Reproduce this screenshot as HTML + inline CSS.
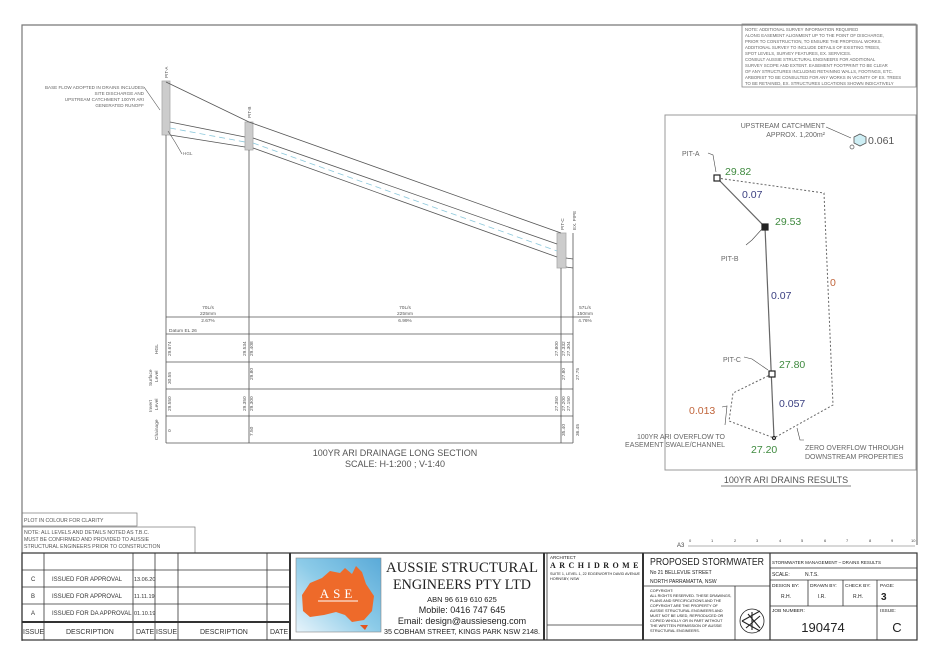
<!DOCTYPE html>
<html><head><meta charset="utf-8"><style>
html,body{margin:0;padding:0;background:#fff;width:940px;height:664px;overflow:hidden}
svg{display:block}
text{font-family:"Liberation Sans",sans-serif}
text.serif{font-family:"Liberation Serif",serif}
</style></head><body>
<svg width="940" height="664" viewBox="0 0 940 664" xmlns="http://www.w3.org/2000/svg">
<rect width="940" height="664" fill="#fff"/>
<polyline points="22,641 22,25 917,25 917,545" fill="none" stroke="#777" stroke-width="1.2"/>

<rect x="742" y="24" width="174" height="63" fill="none" stroke="#888" stroke-width="0.8"/>
<g font-size="4.3" fill="#666">
<text x="745" y="31">NOTE: ADDITIONAL SURVEY INFORMATION REQUIRED</text>
<text x="745" y="37">ALONG EASEMENT ALIGNMENT UP TO THE POINT OF DISCHARGE,</text>
<text x="745" y="43">PRIOR TO CONSTRUCTION, TO ENSURE THE PROPOSAL WORKS.</text>
<text x="745" y="49">ADDITIONAL SURVEY TO INCLUDE DETAILS OF EXISTING TREES,</text>
<text x="745" y="55">SPOT LEVELS, SURVEY FEATURES, EX. SERVICES.</text>
<text x="745" y="61">CONSULT AUSSIE STRUCTURAL ENGINEERS FOR ADDITIONAL</text>
<text x="745" y="67">SURVEY SCOPE AND EXTENT. EASEMENT FOOTPRINT TO BE CLEAR</text>
<text x="745" y="73">OF ANY STRUCTURES INCLUDING RETAINING WALLS, FOOTINGS, ETC.</text>
<text x="745" y="79">ARBORIST TO BE CONSULTED FOR ANY WORKS IN VICINITY OF EX. TREES</text>
<text x="745" y="85">TO BE RETAINED, EX. STRUCTURES LOCATIONS SHOWN INDICATIVELY</text>
</g>

<g stroke="#555" stroke-width="0.8" fill="none">
<rect x="162" y="81" width="8" height="54" fill="#ccc" stroke="#aaa"/>
<rect x="245" y="122" width="8" height="28" fill="#ccc" stroke="#aaa"/>
<rect x="557" y="233" width="9" height="35" fill="#ccc" stroke="#aaa"/>
<polyline points="166,82 249,122 561,233"/>
<line x1="170" y1="122" x2="245" y2="137"/>
<line x1="170" y1="135" x2="245" y2="147"/>
<line x1="253" y1="138" x2="557" y2="244"/>
<line x1="253" y1="148" x2="557" y2="257"/>
<line x1="566" y1="258" x2="573" y2="259"/>
<line x1="566" y1="267" x2="573" y2="268"/>
<line x1="573" y1="233" x2="573" y2="443"/>
<line x1="166" y1="135" x2="166" y2="443"/>
<line x1="249" y1="150" x2="249" y2="443"/>
<line x1="561" y1="268" x2="561" y2="443"/>
</g>
<g stroke="#8cc8dc" stroke-width="0.8" stroke-dasharray="6,4" fill="none">
<line x1="170" y1="128" x2="245" y2="142"/>
<line x1="253" y1="143" x2="557" y2="251"/>
</g>
<g stroke="#555" stroke-width="0.6" fill="none">
<polyline points="144,87 160,110"/>
<polyline points="182,154 175,142 168,131"/>
</g>
<g font-size="4.6" fill="#666" text-anchor="end">
<text x="144" y="89">BASE FLOW ADOPTED IN DRAINS INCLUDES</text>
<text x="144" y="95">SITE DISCHARGE AND</text>
<text x="144" y="101">UPSTREAM CATCHMENT 100YR ARI</text>
<text x="144" y="107">GENERATED RUNOFF</text>
</g>
<text x="183" y="155" font-size="4.6" fill="#666">HGL</text>
<g font-size="4.6" fill="#555">
<text transform="translate(168,78) rotate(-90)">PIT-A</text>
<text transform="translate(251,118) rotate(-90)">PIT-B</text>
<text transform="translate(564,230) rotate(-90)">PIT-C</text>
<text transform="translate(576,230) rotate(-90)">EX. PIPE</text>
</g>

<g stroke="#555" stroke-width="0.8" fill="none">
<line x1="166" y1="317" x2="590" y2="317"/>
<line x1="166" y1="334" x2="573" y2="334"/>
<line x1="166" y1="362" x2="573" y2="362"/>
<line x1="166" y1="389" x2="573" y2="389"/>
<line x1="166" y1="416" x2="573" y2="416"/>
<line x1="166" y1="443" x2="573" y2="443"/>
</g>
<g font-size="4.8" fill="#555" text-anchor="middle">
<text x="208" y="309">70L/s</text><text x="208" y="315">225mm</text><text x="208" y="322">2.67%</text>
<text x="405" y="309">70L/s</text><text x="405" y="315">225mm</text><text x="405" y="322">6.99%</text>
<text x="585" y="309">57L/s</text><text x="585" y="315">150mm</text><text x="585" y="322">4.76%</text>
</g>
<text x="169" y="332" font-size="4.8" fill="#555">Datum EL 26</text>
<g font-size="4.8" fill="#555">
<text transform="translate(158,354) rotate(-90)">HGL</text>
<text transform="translate(152,386) rotate(-90)">Surface</text>
<text transform="translate(158,382) rotate(-90)">Level</text>
<text transform="translate(152,412) rotate(-90)">Invert</text>
<text transform="translate(158,410) rotate(-90)">Level</text>
<text transform="translate(158,440) rotate(-90)">Chainage</text>
<text transform="translate(171,356) rotate(-90)">29.674</text>
<text transform="translate(246,356) rotate(-90)">29.534</text>
<text transform="translate(253,356) rotate(-90)">29.408</text>
<text transform="translate(558,356) rotate(-90)">27.800</text>
<text transform="translate(565,356) rotate(-90)">27.332</text>
<text transform="translate(570,356) rotate(-90)">27.304</text>
<text transform="translate(171,384) rotate(-90)">30.55</text>
<text transform="translate(253,380) rotate(-90)">29.80</text>
<text transform="translate(565,380) rotate(-90)">27.80</text>
<text transform="translate(579,380) rotate(-90)">27.75</text>
<text transform="translate(171,411) rotate(-90)">29.550</text>
<text transform="translate(246,411) rotate(-90)">29.350</text>
<text transform="translate(253,411) rotate(-90)">29.300</text>
<text transform="translate(558,411) rotate(-90)">27.350</text>
<text transform="translate(565,411) rotate(-90)">27.200</text>
<text transform="translate(570,411) rotate(-90)">27.150</text>
<text transform="translate(171,432) rotate(-90)">0</text>
<text transform="translate(253,436) rotate(-90)">7.50</text>
<text transform="translate(565,436) rotate(-90)">35.40</text>
<text transform="translate(579,436) rotate(-90)">36.45</text>
</g>
<g font-size="9" fill="#555" text-anchor="middle">
<text x="395" y="456">100YR ARI DRAINAGE LONG SECTION</text>
<text x="395" y="467">SCALE: H-1:200 ; V-1:40</text>
</g>

<rect x="665" y="115" width="251" height="355" fill="none" stroke="#999" stroke-width="1"/>
<g stroke="#666" stroke-width="1" stroke-dasharray="2,2" fill="none">
<polyline points="717,178 824,193 833,405 774,438"/>
<polyline points="772,374 733,393 729,421 774,438"/>
</g>
<g stroke="#666" stroke-width="1.2" fill="none">
<line x1="717" y1="178" x2="765" y2="227"/>
<line x1="765" y1="227" x2="774" y2="438"/>
</g>
<g fill="#fff" stroke="#222" stroke-width="1.2">
<rect x="714" y="175" width="6" height="6"/>
<rect x="762" y="224" width="6" height="6" fill="#222"/>
<rect x="769" y="371" width="6" height="6"/>
<circle cx="774" cy="438" r="1.5"/>
</g>
<polygon points="860,134 866,137 866,143 860,146 854,143 854,137" fill="#cdeef4" stroke="#555" stroke-width="0.8"/>
<circle cx="852" cy="147" r="2" fill="#fff" stroke="#555" stroke-width="0.7"/>
<g stroke="#444" stroke-width="0.6" fill="none">
<polyline points="826,127 851,138"/>
<polyline points="708,153 713,155 716,172"/>
<polyline points="746,245 752,240 762,229"/>
<polyline points="744,357 752,359 768,370"/>
<polyline points="722,407 727,406 725,425"/>
<polyline points="797,428 800,440 804,440"/>
</g>
<g font-size="7" fill="#666">
<text x="825" y="128" text-anchor="end">UPSTREAM CATCHMENT</text>
<text x="825" y="137" text-anchor="end">APPROX. 1,200m²</text>
<text x="682" y="156">PIT-A</text>
<text x="721" y="261">PIT-B</text>
<text x="723" y="362">PIT-C</text>
<text x="725" y="439" text-anchor="end">100YR ARI OVERFLOW TO</text>
<text x="725" y="447" text-anchor="end">EASEMENT SWALE/CHANNEL</text>
<text x="805" y="450">ZERO OVERFLOW THROUGH</text>
<text x="805" y="459">DOWNSTREAM PROPERTIES</text>
</g>
<g font-size="10.5">
<text x="868" y="144" fill="#555">0.061</text>
<text x="725" y="175" fill="#3f8a3f">29.82</text>
<text x="742" y="198" fill="#3a3f80">0.07</text>
<text x="775" y="225" fill="#3f8a3f">29.53</text>
<text x="771" y="299" fill="#3a3f80">0.07</text>
<text x="830" y="286" fill="#c0643a">0</text>
<text x="779" y="368" fill="#3f8a3f">27.80</text>
<text x="779" y="407" fill="#3a3f80">0.057</text>
<text x="689" y="414" fill="#c0643a">0.013</text>
<text x="751" y="453" fill="#3f8a3f">27.20</text>
</g>
<text x="786" y="483" font-size="9" fill="#555" text-anchor="middle">100YR ARI DRAINS RESULTS</text>
<line x1="721" y1="486" x2="851" y2="486" stroke="#555" stroke-width="0.8"/>

<text x="677" y="547" font-size="6" fill="#444">A3</text>
<line x1="688" y1="546" x2="915" y2="546" stroke="#666" stroke-width="0.6"/>
<g font-size="4" fill="#444">
<text x="689" y="542">0</text><text x="711" y="542">1</text><text x="734" y="542">2</text><text x="756" y="542">3</text><text x="779" y="542">4</text><text x="801" y="542">5</text><text x="824" y="542">6</text><text x="846" y="542">7</text><text x="869" y="542">8</text><text x="891" y="542">9</text><text x="911" y="542">10</text>
</g>

<rect x="22" y="513" width="115" height="13" fill="none" stroke="#777" stroke-width="0.7"/>
<text x="24" y="522" font-size="5.2" fill="#555">PLOT IN COLOUR FOR CLARITY</text>
<rect x="22" y="527" width="173" height="26" fill="none" stroke="#777" stroke-width="0.7"/>
<g font-size="5.2" fill="#555">
<text x="24" y="534">NOTE: ALL LEVELS AND DETAILS NOTED AS T.B.C.</text>
<text x="24" y="541">MUST BE CONFIRMED AND PROVIDED TO AUSSIE</text>
<text x="24" y="548">STRUCTURAL ENGINEERS PRIOR TO CONSTRUCTION</text>
</g>

<g stroke="#333" fill="none">
<rect x="22" y="553" width="895" height="87" stroke-width="1.2"/>
<line x1="290" y1="553" x2="290" y2="640" stroke-width="2"/>
<line x1="544" y1="553" x2="544" y2="640" stroke-width="2"/>
<line x1="643" y1="553" x2="643" y2="640" stroke-width="2"/>
<line x1="770" y1="553" x2="770" y2="640" stroke-width="1.2"/>
<g stroke-width="0.8">
<line x1="22" y1="570" x2="290" y2="570"/>
<line x1="22" y1="587" x2="290" y2="587"/>
<line x1="22" y1="604" x2="290" y2="604"/>
<line x1="22" y1="622" x2="290" y2="622" stroke-width="2"/>
<line x1="44" y1="553" x2="44" y2="640"/>
<line x1="133" y1="553" x2="133" y2="640"/>
<line x1="155" y1="553" x2="155" y2="640"/>
<line x1="178" y1="553" x2="178" y2="640"/>
<line x1="267" y1="553" x2="267" y2="640"/>
<line x1="547" y1="553" x2="547" y2="640"/>
<line x1="547" y1="625" x2="643" y2="625"/>
<line x1="643" y1="586" x2="770" y2="586"/>
<line x1="735" y1="586" x2="735" y2="640"/>
<line x1="770" y1="568" x2="917" y2="568"/>
<line x1="770" y1="580" x2="917" y2="580"/>
<line x1="770" y1="606" x2="917" y2="606"/>
<line x1="808" y1="580" x2="808" y2="606"/>
<line x1="843" y1="580" x2="843" y2="606"/>
<line x1="877" y1="580" x2="877" y2="640"/>
</g>
</g>
<g font-size="6" fill="#333">
<text x="31" y="581">C</text><text x="52" y="581">ISSUED FOR APPROVAL</text><text x="134" y="581" font-size="5.5">13.06.20</text>
<text x="31" y="598">B</text><text x="52" y="598">ISSUED FOR APPROVAL</text><text x="134" y="598" font-size="5.5">11.11.19</text>
<text x="31" y="615">A</text><text x="52" y="615">ISSUED FOR DA APPROVAL</text><text x="134" y="615" font-size="5.5">01.10.19</text>
<text x="23" y="634" font-size="7">ISSUE</text><text x="66" y="634" font-size="7">DESCRIPTION</text><text x="136" y="634" font-size="7">DATE</text><text x="156" y="634" font-size="7">ISSUE</text><text x="200" y="634" font-size="7">DESCRIPTION</text><text x="270" y="634" font-size="7">DATE</text>
</g>
<defs><linearGradient id="lg" x1="0" y1="1" x2="1" y2="0"><stop offset="0" stop-color="#e8f4fb"/><stop offset="0.5" stop-color="#8ccbe8"/><stop offset="1" stop-color="#5aaad8"/></linearGradient></defs>
<rect x="296" y="558" width="85" height="74" fill="url(#lg)" stroke="#888" stroke-width="0.6"/>
<path d="M302,595 L310,583 L322,578 L330,571 L340,573 L345,568 L352,574 L356,566 L362,572 L366,584 L374,596 L372,611 L364,620 L352,622 L345,615 L336,612 L324,615 L310,617 L303,611 Z" fill="#ee6a2a"/>
<path d="M360,625 L368,625 L365,630 Z" fill="#e25520"/>
<text x="338" y="598" font-size="13" fill="#fff" text-anchor="middle" class="serif" style="font-family:'Liberation Serif',serif" letter-spacing="4">ASE</text>
<line x1="318" y1="601" x2="358" y2="601" stroke="#fff" stroke-width="1"/>
<g fill="#222" text-anchor="middle">
<text x="462" y="572" font-size="14.5" class="serif" style="font-family:'Liberation Serif',serif" textLength="152" lengthAdjust="spacingAndGlyphs">AUSSIE STRUCTURAL</text>
<text x="462" y="589" font-size="14.5" class="serif" style="font-family:'Liberation Serif',serif" textLength="138" lengthAdjust="spacingAndGlyphs">ENGINEERS PTY LTD</text>
<text x="462" y="602" font-size="7.5">ABN 96 619 610 625</text>
<text x="462" y="613" font-size="9">Mobile:  0416 747 645</text>
<text x="462" y="624" font-size="9">Email:  design@aussieseng.com</text>
<text x="462" y="634" font-size="7" textLength="156" lengthAdjust="spacingAndGlyphs">35 COBHAM STREET, KINGS PARK NSW 2148.</text>
</g>
<g fill="#222">
<text x="550" y="559" font-size="4.5">ARCHITECT</text>
<text x="550" y="568" font-size="8" font-weight="bold" style="font-family:'Liberation Serif',serif" letter-spacing="1.5" textLength="90">ARCHIDROME</text>
<text x="550" y="575" font-size="3.8" textLength="90" lengthAdjust="spacingAndGlyphs">SUITE 1, LEVEL 1, 22 EDGEWORTH DAVID AVENUE</text>
<text x="550" y="580" font-size="3.8">HORNSBY, NSW</text>
<text x="650" y="565" font-size="10" textLength="114" lengthAdjust="spacingAndGlyphs">PROPOSED STORMWATER</text>
<text x="650" y="574" font-size="5">No 21 BELLEVUE STREET</text>
<text x="650" y="583" font-size="5">NORTH PARRAMATTA, NSW</text>
<g font-size="3.8">
<text x="650" y="592">COPYRIGHT:</text>
<text x="650" y="597">ALL RIGHTS RESERVED. THESE DRAWINGS,</text>
<text x="650" y="602">PLANS AND SPECIFICATIONS AND THE</text>
<text x="650" y="607">COPYRIGHT ARE THE PROPERTY OF</text>
<text x="650" y="612">AUSSIE STRUCTURAL ENGINEERS AND</text>
<text x="650" y="617">MUST NOT BE USED, REPRODUCED OR</text>
<text x="650" y="622">COPIED WHOLLY OR IN PART WITHOUT</text>
<text x="650" y="627">THE WRITTEN PERMISSION OF AUSSIE</text>
<text x="650" y="632">STRUCTURAL ENGINEERS.</text>
</g>
<text x="772" y="564" font-size="4.5">STORMWATER MANAGEMENT – DRAINS RESULTS</text>
<text x="772" y="576" font-size="5">SCALE:</text><text x="805" y="576" font-size="5">N.T.S.</text>
<text x="772" y="587" font-size="4.8">DESIGN BY:</text><text x="781" y="598" font-size="5">R.H.</text>
<text x="810" y="587" font-size="4.8">DRAWN BY:</text><text x="818" y="598" font-size="5">I.R.</text>
<text x="845" y="587" font-size="4.8">CHECK BY:</text><text x="853" y="598" font-size="5">R.H.</text>
<text x="880" y="587" font-size="4.8">PAGE:</text><text x="881" y="600" font-size="10" font-weight="bold">3</text>
<text x="772" y="612" font-size="4.8">JOB NUMBER:</text>
<text x="823" y="632" font-size="13" text-anchor="middle">190474</text>
<text x="880" y="612" font-size="4.8">ISSUE:</text>
<text x="897" y="632" font-size="13" text-anchor="middle">C</text>
</g>
<circle cx="752" cy="621" r="12" fill="none" stroke="#222" stroke-width="0.8"/>
<path d="M742,621 L760,611 M742,621 L760,631 M748,614 L760,628 M752,612 L752,630 M746,628 L760,616" stroke="#222" stroke-width="1.1" fill="none"/>
</svg>
</body></html>
